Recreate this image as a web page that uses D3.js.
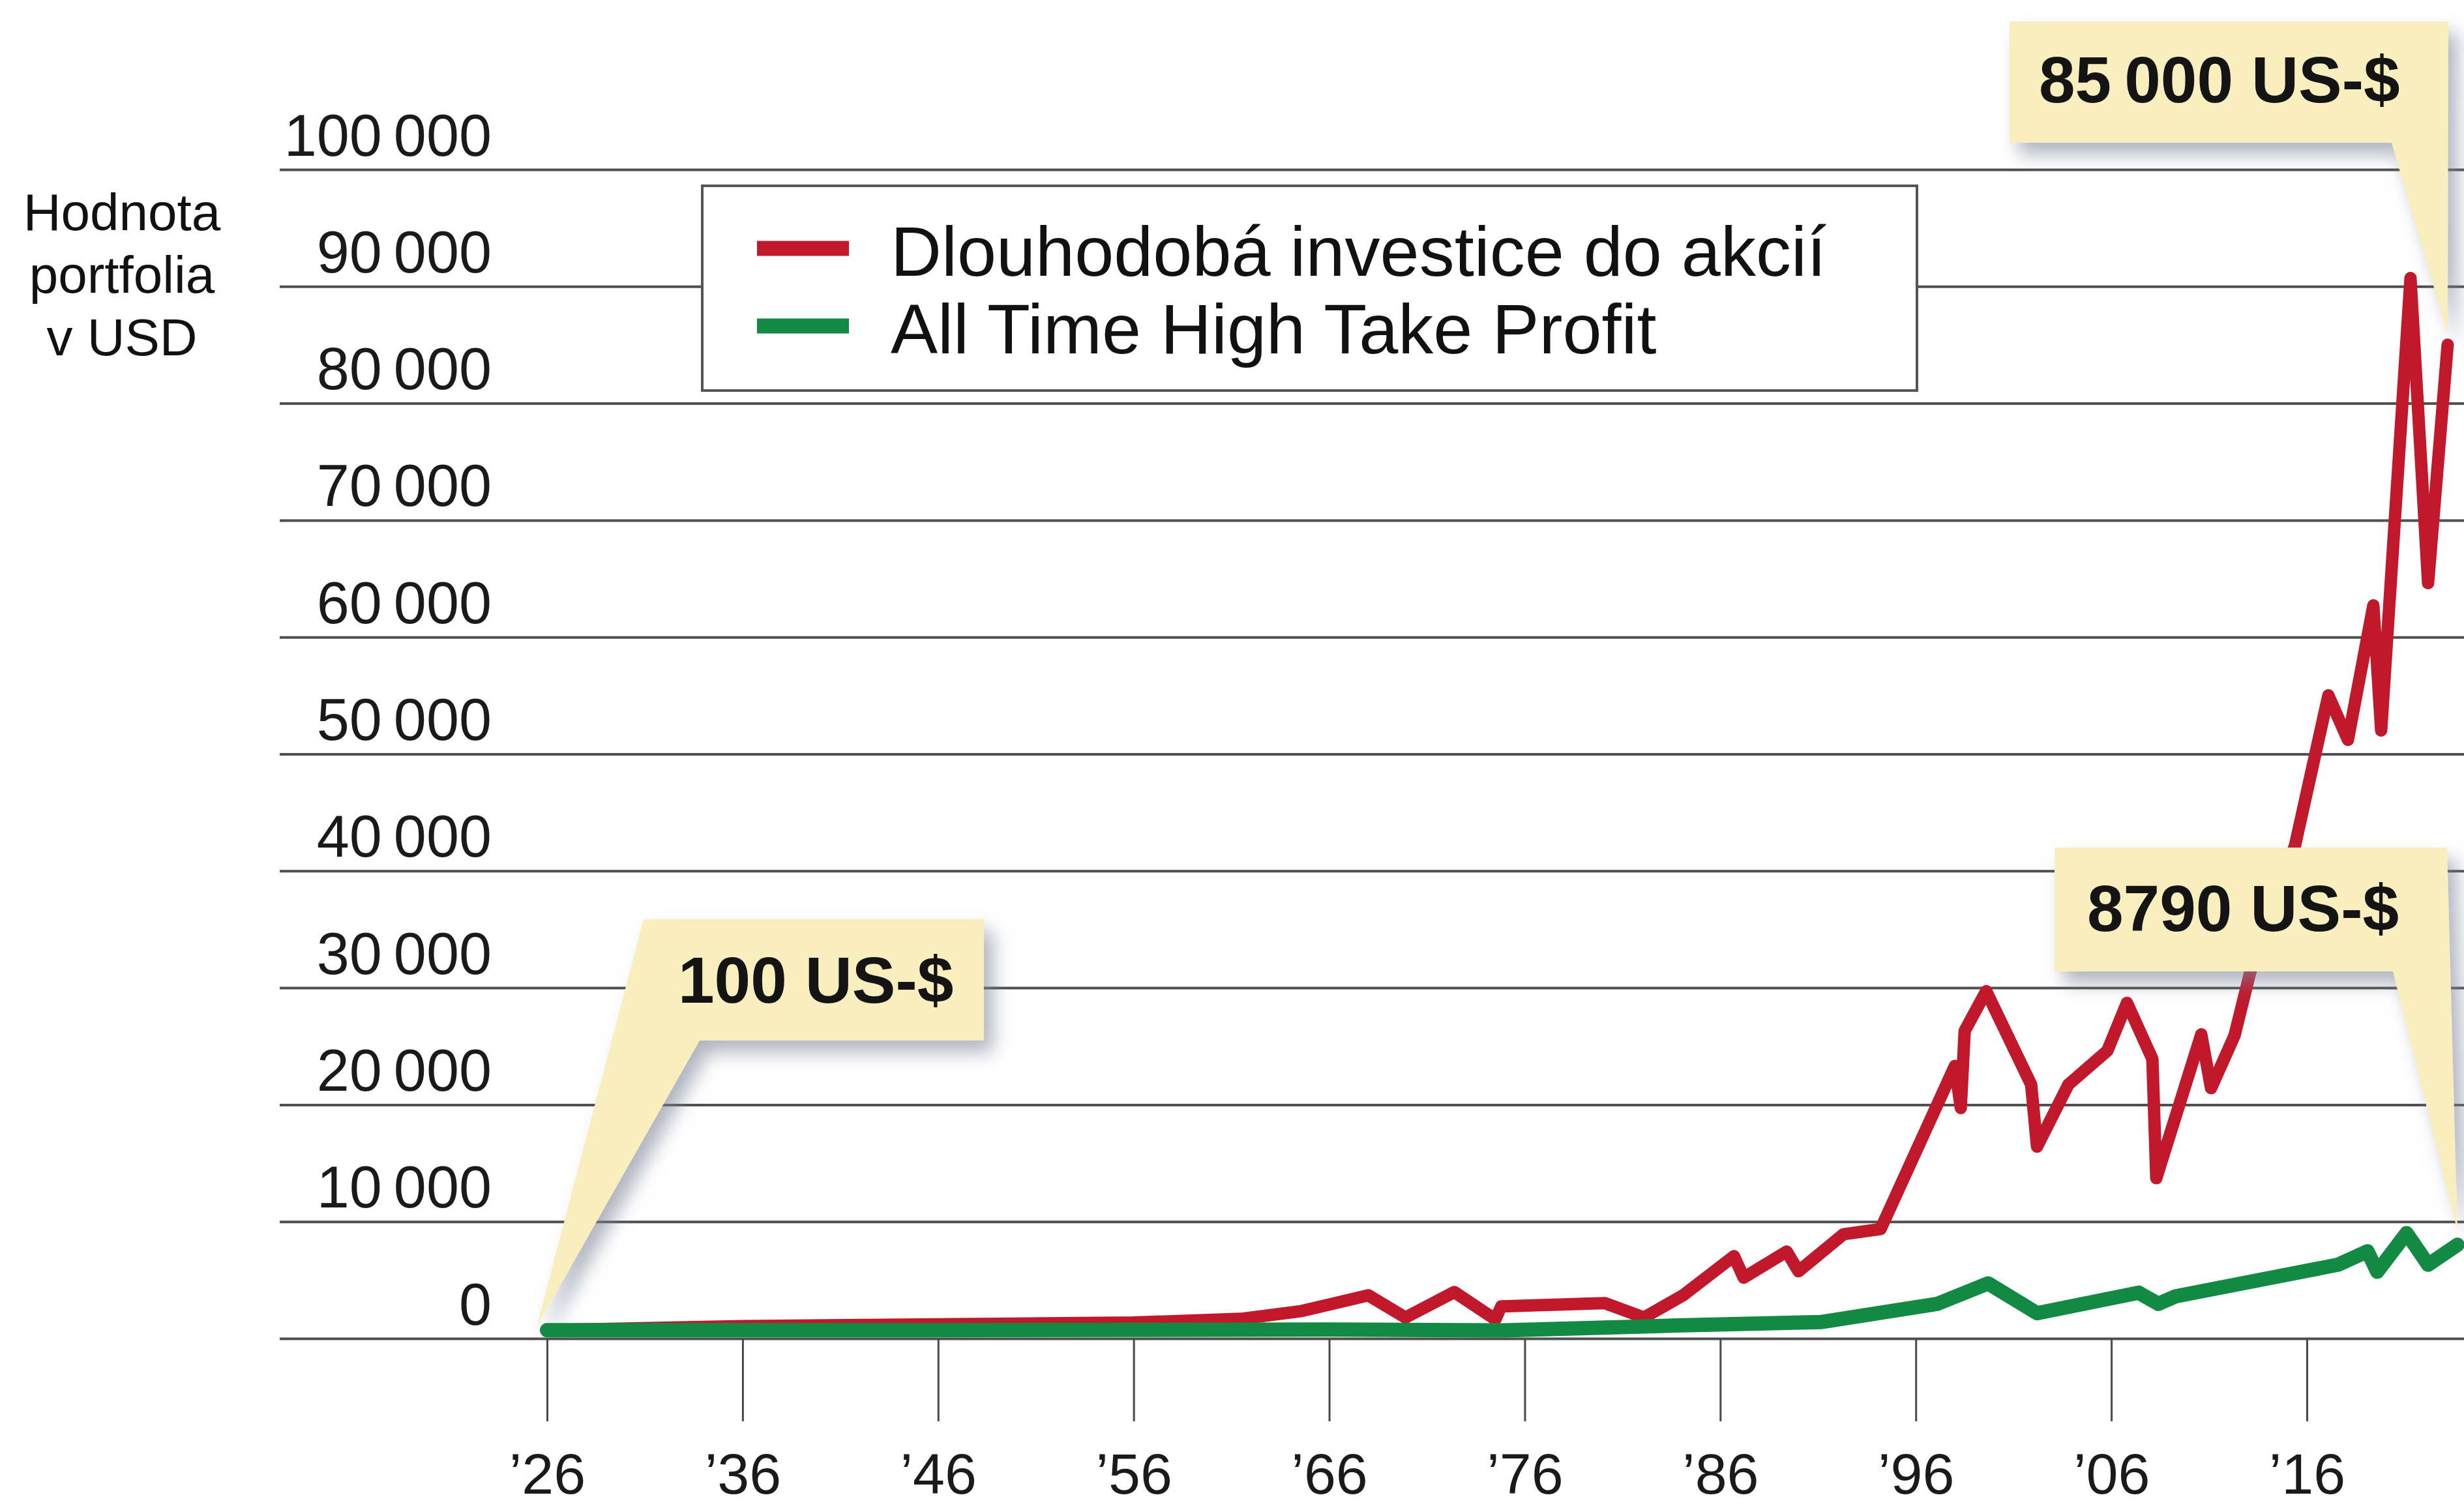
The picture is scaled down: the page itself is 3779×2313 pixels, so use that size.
<!DOCTYPE html>
<html lang="cs">
  <head>
    <meta charset="UTF-8" />
    <title>Hodnota portfolia v USD</title>
    <style type="text/css">
      body {
        margin: 0;
        background: #ffffff;
        font-family: "Liberation Sans", Arial, Helvetica, sans-serif;
      }

      svg {
        display: block;
      }

      .grid line {
        stroke: #4f4f4f;
        stroke-width: 4px;
      }

      .x-axis line {
        stroke: #4a4a4a;
        stroke-width: 3px;
      }

      .tick text {
        fill: #1a1a1a;
      }

      .callout-text {
        font-weight: bold;
        fill: #141414;
      }
    </style>
  </head>
  <body>
    <script src="https://d3js.org/d3.v7.min.js"></script>
    <script>
      // values
      var seriesNames = ["Dlouhodobá investice do akcií", "All Time High Take Profit"];
      var seriesColors = ["#c2182c", "#138a43"];

      var stockYears = [1926, 1936, 1946, 1956, 1961.5, 1964.6, 1968, 1969.9, 1972.4, 1974.5, 1974.8,
        1980.1, 1982.1, 1984.1, 1986.7, 1987.2, 1989.4, 1990, 1992.3, 1994.2, 1998, 1998.3, 1998.5,
        1999.6, 2001.9, 2002.2, 2003.8, 2005.8, 2006.8, 2008.1, 2008.3, 2010.6, 2011.1, 2012.3,
        2013.1, 2015.4, 2017.1, 2018.1, 2019.4, 2019.8, 2021.3, 2022.2, 2023.2];
      var stockValues = [100, 450, 600, 750, 1070, 1740, 3080, 1180, 3360, 1020, 2130,
        2410, 1180, 3080, 6430, 4590, 6820, 5140, 8300, 8750, 22700, 19100, 25700,
        29100, 21100, 15800, 21100, 24000, 28100, 23300, 13100, 25400, 20800, 25300,
        30700, 41600, 54400, 50600, 62100, 51400, 90100, 64000, 84400];

      var athYears = [1926, 1946, 1966, 1975, 1983.8, 1991.2, 1997.1, 1999.7, 2002.2, 2007.4,
        2008.4, 2009.3, 2017.6, 2019.1, 2019.6, 2021.1, 2022.2, 2023.7];
      var athValues = [100, 100, 150, 80, 500, 800, 2350, 4100, 1550, 3300,
        2350, 3000, 5700, 6850, 5100, 8400, 5700, 7400];

      var yTicks = [0, 10000, 20000, 30000, 40000, 50000, 60000, 70000, 80000, 90000, 100000];
      var xTicks = [1926, 1936, 1946, 1956, 1966, 1976, 1986, 1996, 2006, 2016];
      var calloutLabels = ["100 US-$", "85\u2009000 US-$", "8790 US-$"];
      var yTitle = ["Hodnota", "portfolia", "v USD"];

      var width = 3779;
      var height = 2313;
      var gridLeft = 429;
      var lineOffset = -11; // lines rest on the zero line

      var stock = stockYears.map((d, i) => ({ year: d, value: stockValues[i] }));
      var ath = athYears.map((d, i) => ({ year: d, value: athValues[i] }));

      var x = d3.scaleLinear().domain([1926, 2016]).range([839, 3538]);
      var y = d3.scaleLinear().domain([0, 100000]).range([2053, 260]);

      var svg = d3
        .select("body")
        .append("svg")
        .attr("width", width)
        .attr("height", height)
        .attr("viewBox", [0, 0, width, height]);

      var defs = svg.append("defs");
      defs
        .append("filter")
        .attr("id", "shadow")
        .attr("x", "-20%")
        .attr("y", "-20%")
        .attr("width", "150%")
        .attr("height", "160%")
        .append("feDropShadow")
        .attr("dx", 14)
        .attr("dy", 18)
        .attr("stdDeviation", 14)
        .attr("flood-color", "#7d8398")
        .attr("flood-opacity", 0.6);

      svg.append("rect").attr("width", width).attr("height", height).attr("fill", "#fff");

      // y gridlines + labels
      var fmt = (v) => d3.format(",")(v).replace(",", "\u2009");
      svg
        .append("g")
        .attr("class", "grid")
        .attr("transform", `translate(${gridLeft},0)`)
        .call(d3.axisLeft(y).tickValues(yTicks).tickSize(-(width - gridLeft)).tickFormat(fmt))
        .attr("font-family", "Liberation Sans, Arial, sans-serif")
        .attr("font-size", 90)
        .call((g) => g.select(".domain").remove())
        .call((g) =>
          g
            .selectAll(".tick text")
            .attr("x", 754 - gridLeft)
            .attr("y", -22)
            .attr("dy", 0)
            .attr("text-anchor", "end")
        );

      // x ticks
      svg
        .append("g")
        .attr("class", "x-axis")
        .attr("transform", `translate(0,${y(0)})`)
        .call(
          d3
            .axisBottom(x)
            .tickValues(xTicks)
            .tickSize(127)
            .tickFormat((d) => "\u2019" + String(d).slice(2))
        )
        .attr("font-family", "Liberation Sans, Arial, sans-serif")
        .attr("font-size", 88)
        .call((g) => g.select(".domain").remove())
        .call((g) => g.selectAll(".tick text").attr("y", 238).attr("dy", 0));

      // y title
      svg
        .append("text")
        .attr("text-anchor", "middle")
        .attr("font-size", 80)
        .attr("fill", "#111")
        .selectAll("tspan")
        .data(yTitle)
        .join("tspan")
        .attr("x", 187)
        .attr("y", (d, i) => 353 + i * 96)
        .text((d) => d);

      function callout(points, label, tx, ty) {
        var g = svg.append("g");
        g.append("polygon")
          .attr("points", points.map((p) => p.join(",")).join(" "))
          .attr("fill", "#f9eebd")
          .attr("filter", "url(#shadow)");
        g.append("text")
          .attr("class", "callout-text")
          .attr("x", tx)
          .attr("y", ty)
          .attr("font-size", 100)
          .text(label);
      }

      var line = d3
        .line()
        .x((d) => x(d.year))
        .y((d) => y(d.value));

      var first = stock[0];
      var lastStock = stock[stock.length - 1];
      var lastAth = ath[ath.length - 1];

      callout(
        [[987, 1410], [1509, 1410], [1509, 1596], [1073, 1596],
          [x(first.year) - 16, y(first.value) + lineOffset - 5]],
        calloutLabels[0], 1040, 1538
      );

      callout(
        [[3082, 33], [3755, 33], [x(lastStock.year), y(lastStock.value) + lineOffset - 16],
          [3668, 219], [3082, 219]],
        calloutLabels[1], 3127, 157
      );

      var lines = svg.append("g").attr("transform", `translate(0,${lineOffset})`);

      lines
        .append("path")
        .datum(stock)
        .attr("fill", "none")
        .attr("stroke", seriesColors[0])
        .attr("stroke-width", 19)
        .attr("stroke-linejoin", "round")
        .attr("stroke-linecap", "round")
        .attr("d", line);

      lines
        .append("path")
        .datum(ath)
        .attr("fill", "none")
        .attr("stroke", seriesColors[1])
        .attr("stroke-width", 22)
        .attr("stroke-linejoin", "round")
        .attr("stroke-linecap", "round")
        .attr("d", line);

      callout(
        [[3151, 1300], [3753, 1300], [x(lastAth.year), y(lastAth.value) + lineOffset - 22],
          [3670, 1490], [3151, 1490]],
        calloutLabels[2], 3201, 1428
      );

      // legend
      var legend = svg.append("g");
      legend
        .append("rect")
        .attr("x", 1077)
        .attr("y", 285)
        .attr("width", 1863)
        .attr("height", 314)
        .attr("fill", "#fff")
        .attr("stroke", "#555")
        .attr("stroke-width", 4);

      var legendItem = legend
        .selectAll(".legend-item")
        .data(seriesNames)
        .join("g")
        .attr("class", "legend-item")
        .attr("transform", (d, i) => `translate(0,${i * 119})`);

      legendItem
        .append("line")
        .attr("x1", 1161)
        .attr("x2", 1302)
        .attr("y1", 381)
        .attr("y2", 381)
        .attr("stroke", (d, i) => seriesColors[i])
        .attr("stroke-width", 23);

      legendItem
        .append("text")
        .attr("x", 1366)
        .attr("y", 423)
        .attr("font-size", 108)
        .attr("fill", "#111")
        .text((d) => d);
    </script>
  </body>
</html>
